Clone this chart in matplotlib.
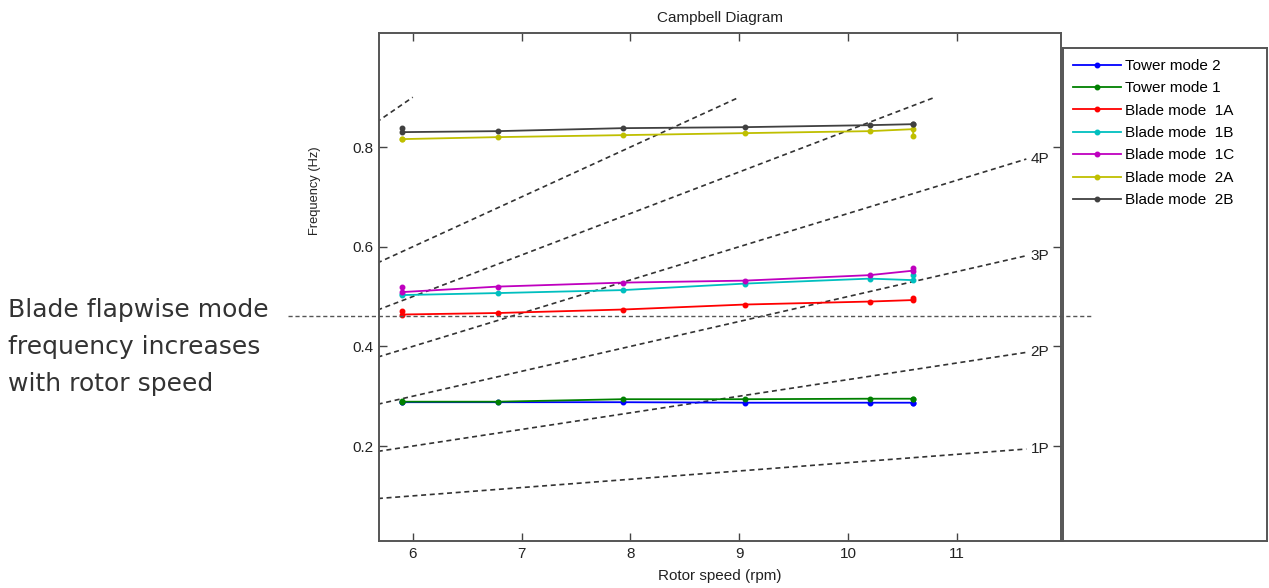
import numpy as np
import matplotlib
matplotlib.use("Agg")
import matplotlib.pyplot as plt
from matplotlib.lines import Line2D
import matplotlib.transforms as mtransforms

plt.rcParams['font.family'] = ['Liberation Sans', 'DejaVu Sans']

# rotor speed of each operating point (rpm); ends repeated where two points stack
rpm = [5.9, 5.9, 6.78, 7.93, 9.05, 10.2, 10.6, 10.6]

tower_2 = [0.288, 0.288, 0.288, 0.288, 0.287, 0.287, 0.287, 0.287]
tower_1 = [0.290, 0.289, 0.289, 0.294, 0.294, 0.295, 0.295, 0.295]
blade_1a = [0.471, 0.464, 0.467, 0.474, 0.484, 0.490, 0.493, 0.498]
blade_1b = [0.505, 0.503, 0.507, 0.513, 0.526, 0.536, 0.533, 0.543]
blade_1c = [0.519, 0.509, 0.520, 0.528, 0.532, 0.543, 0.552, 0.558]
blade_2a = [0.816, 0.816, 0.820, 0.824, 0.828, 0.832, 0.836, 0.822]
blade_2b = [0.838, 0.830, 0.832, 0.838, 0.840, 0.844, 0.846, 0.846]

mode_names = ["Tower mode 2", "Tower mode 1", "Blade mode  1A", "Blade mode  1B",
              "Blade mode  1C", "Blade mode  2A", "Blade mode  2B"]
mode_values = [tower_2, tower_1, blade_1a, blade_1b, blade_1c, blade_2a, blade_2b]
mode_colors = ["#0000ff", "#008000", "#ff0000", "#00bfbf", "#bf00bf", "#bfbf00", "#404040"]

# per-rev excitation lines
harmonics = [1, 2, 3, 4, 5, 6, 9]
labelled = [1, 2, 3, 4]
f_cap = 0.9
rpm_start, rpm_end = 5.6, 11.64

flap_freq = 0.461
note = "Blade flapwise mode\nfrequency increases\nwith rotor speed"

fig = plt.figure(figsize=(12.69, 5.88), dpi=100)
ax = fig.add_axes([0.2987, 0.0799, 0.5375, 0.864])

for n in harmonics:
    x_end = min(rpm_end, f_cap * 60 / n)
    xs = np.array([rpm_start, x_end])
    ax.plot(xs, n * xs / 60, color="#333333", lw=1.2, ls=(0, (3, 2.2)), zorder=1)
    if n in labelled:
        ax.text(11.68, n * rpm_end / 60, "%dP" % n, fontsize=11, color="#222222",
                ha="left", va="center")

for name, vals, col in zip(mode_names, mode_values, mode_colors):
    ax.plot(rpm, vals, color=col, lw=1.3, marker=".", ms=6.5, label=name, zorder=3)

ax.set_xlim(5.69, 11.96)
ax.set_ylim(0.0094, 1.029)
ax.set_xticks([6, 7, 8, 9, 10, 11])
ax.set_yticks([0.2, 0.4, 0.6, 0.8])
ax.tick_params(direction="in", top=True, right=True, length=6, width=1,
               labelsize=11, color="#444444", labelcolor="#222222", pad=4)
for s in ax.spines.values():
    s.set_color("#555555")
    s.set_linewidth(1.4)

ax.set_title("Campbell Diagram", fontsize=11, color="#222222", pad=8)
ax.set_xlabel("Rotor speed (rpm)", fontsize=11, color="#222222", labelpad=6)
ax.set_ylabel("Frequency (Hz)", fontsize=9.3, color="#222222")
ax.yaxis.set_label_coords(-0.085, 0.69)

# legend in its own tall box
lax = fig.add_axes([0.8377, 0.0799, 0.1605, 0.8385])
lax.set_xticks([])
lax.set_yticks([])
for s in lax.spines.values():
    s.set_color("#555555")
    s.set_linewidth(1.4)
handles, labels = ax.get_legend_handles_labels()
lax.legend(handles, labels, loc="upper left", frameon=False, fontsize=11,
           handlelength=3.1, handletextpad=0.3, labelspacing=0.55,
           borderaxespad=0.15, bbox_to_anchor=(0.01, 0.995))

# horizontal reference line across the figure
trans = mtransforms.blended_transform_factory(fig.transFigure, ax.transData)
fig.add_artist(Line2D([0.227, 0.861], [flap_freq, flap_freq], transform=trans,
                      color="#555555", lw=1.0, ls=(0, (3, 2))))

fig.text(0.0063, 0.41, note, fontsize=18, family="DejaVu Sans", color="#333333",
         ha="left", va="center", linespacing=1.68)

fig.savefig("out.png", dpi=100)
